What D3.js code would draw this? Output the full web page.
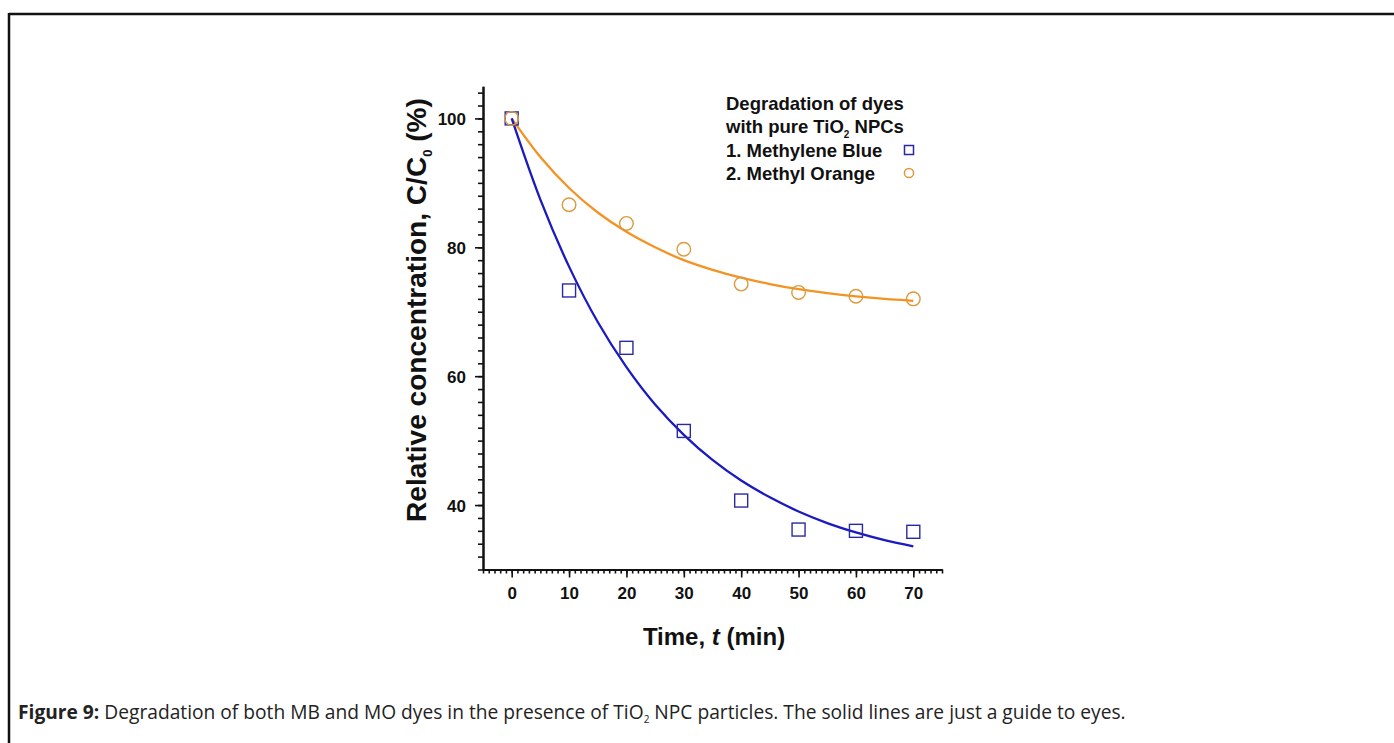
<!DOCTYPE html>
<html><head><meta charset="utf-8">
<script src="https://cdn.jsdelivr.net/npm/d3@7"></script>
<style>
html,body{margin:0;padding:0;background:#fff;}
svg{display:block;}
</style></head>
<body>
<svg id="c" width="1394" height="743"></svg>
<script>
// ---- data ----
const times = [0, 10, 20, 30, 40, 50, 60, 70];
const mbValues = [100, 73.3, 64.4, 51.5, 40.7, 36.2, 36.0, 35.85];
const moValues = [100, 86.6, 83.7, 79.7, 74.3, 73.0, 72.4, 72.0];
// guide-line points
const guideTimes = [0, 5, 10, 15, 20, 25, 30, 35, 40, 45, 50, 55, 60, 65, 70];
const mbGuide = [100, 87.4, 77.0, 68.4, 61.4, 55.6, 50.9, 47.0, 43.8, 41.2, 39.0, 37.2, 35.75, 34.55, 33.6];
const moGuide = [100, 94.0, 89.2, 85.4, 82.4, 80.0, 78.0, 76.5, 75.3, 74.3, 73.5, 72.9, 72.4, 72.0, 71.7];
const xTickLabels = [0, 10, 20, 30, 40, 50, 60, 70];
const yTickLabels = [40, 60, 80, 100];
const legendTitle1 = "Degradation of dyes";
const legendItems = ["1. Methylene Blue", "2. Methyl Orange"];

const svg = d3.select("#c");
const FONT = "Liberation Sans, Arial, sans-serif";

// frame
svg.append("line").attr("x1", 9).attr("x2", 1394).attr("y1", 14).attr("y2", 14)
  .attr("stroke", "#111").attr("stroke-width", 2.5);
svg.append("line").attr("x1", 9).attr("x2", 9).attr("y1", 13).attr("y2", 743)
  .attr("stroke", "#111").attr("stroke-width", 2.5);

const x = d3.scaleLinear().domain([-5, 75]).range([483, 942]);
const y = d3.scaleLinear().domain([30, 105]).range([569.5, 86.2]);

// minor ticks
const xMinor = d3.range(-5, 76, 1);
const yMinor = d3.range(30, 105, 2);

const gxMinor = svg.append("g").attr("transform", `translate(0,${y(30)})`)
  .call(d3.axisBottom(x).tickValues(xMinor).tickSize(4).tickSizeOuter(0).tickFormat(""));
const gx = svg.append("g").attr("transform", `translate(0,${y(30)})`)
  .call(d3.axisBottom(x).tickValues(xTickLabels).tickSize(8).tickSizeOuter(0).tickPadding(6));
const gyMinor = svg.append("g").attr("transform", `translate(${x(-5)},0)`)
  .call(d3.axisLeft(y).tickValues(yMinor).tickSize(5).tickSizeOuter(0).tickFormat(""));
const gy = svg.append("g").attr("transform", `translate(${x(-5)},0)`)
  .call(d3.axisLeft(y).tickValues(yTickLabels).tickSize(8).tickSizeOuter(0).tickPadding(9));

[gxMinor, gx, gyMinor, gy].forEach(g => {
  g.attr("font-size", null).attr("font-family", null);
  g.selectAll("path").attr("stroke", "#111").attr("stroke-width", 2);
  g.selectAll("line").attr("stroke", "#111").attr("stroke-width", 1.6);
  g.selectAll("text").attr("fill", "#111").style("font-family", FONT)
    .style("font-size", "17px").style("font-weight", "bold");
});
gx.selectAll("text").attr("dy", "0.9em");
gy.selectAll("text").attr("dy", "0.36em");

// axis titles
const xt = svg.append("text").attr("x", 714).attr("y", 645).attr("text-anchor", "middle")
  .style("font-family", FONT).style("font-size", "24px").style("font-weight", "bold").attr("fill", "#111");
xt.append("tspan").text("Time, ");
xt.append("tspan").style("font-style", "italic").text("t");
xt.append("tspan").text(" (min)");

const yt = svg.append("text").attr("transform", "translate(426,310) rotate(-90)")
  .attr("text-anchor", "middle")
  .style("font-family", FONT).style("font-size", "24px").style("font-weight", "bold").attr("fill", "#111");
yt.append("tspan").text("Relative concentration, C/C");
yt.append("tspan").attr("dy", 6).style("font-size", "13px").text("0");
yt.append("tspan").attr("dy", -6).text(" (%)");
const yl = yt.node().getComputedTextLength();
yt.style("font-size", (24 * 425 / yl).toFixed(2) + "px");

// guide lines
const line = d3.line().curve(d3.curveCatmullRom.alpha(0.5));
svg.append("path")
  .attr("d", line(guideTimes.map((t, i) => [x(t), y(moGuide[i])])))
  .attr("fill", "none").attr("stroke", "#f29322").attr("stroke-width", 2.3);
svg.append("path")
  .attr("d", line(guideTimes.map((t, i) => [x(t), y(mbGuide[i])])))
  .attr("fill", "none").attr("stroke", "#1a1ac0").attr("stroke-width", 2.3);

// markers
const sq = 13;
svg.append("g").selectAll("rect").data(times).join("rect")
  .attr("x", (t) => x(t) - sq / 2).attr("y", (t, i) => y(mbValues[i]) - sq / 2)
  .attr("width", sq).attr("height", sq)
  .attr("fill", "none").attr("stroke", "#2a2aa0").attr("stroke-width", 1.4);
svg.append("g").selectAll("circle").data(times).join("circle")
  .attr("cx", (t) => x(t)).attr("cy", (t, i) => y(moValues[i])).attr("r", 6.8)
  .attr("fill", "none").attr("stroke", "#dc9a3e").attr("stroke-width", 1.4);

// legend
const lg = svg.append("g").style("font-family", FONT).style("font-size", "18.5px")
  .style("font-weight", "bold").attr("fill", "#111");
lg.append("text").attr("x", 726).attr("y", 109.5).text(legendTitle1);
const l2 = lg.append("text").attr("x", 726).attr("y", 132.5);
l2.append("tspan").text("with pure TiO");
l2.append("tspan").attr("dy", 5).style("font-size", "10px").text("2");
l2.append("tspan").attr("dy", -5).text(" NPCs");
lg.append("text").attr("x", 726).attr("y", 156.5).text(legendItems[0]);
lg.append("text").attr("x", 726).attr("y", 179.5).text(legendItems[1]);
svg.append("rect").attr("x", 909 - 4.5).attr("y", 150 - 4.5).attr("width", 9).attr("height", 9)
  .attr("fill", "none").attr("stroke", "#2a2aa0").attr("stroke-width", 1.5);
svg.append("circle").attr("cx", 909).attr("cy", 173).attr("r", 4.6)
  .attr("fill", "none").attr("stroke", "#dc9a3e").attr("stroke-width", 1.5);

// caption
const cap = svg.append("text").attr("x", 18).attr("y", 719)
  .style("font-family", "Open Sans, Noto Sans, sans-serif").style("font-size", "17px").attr("fill", "#222");
cap.append("tspan").style("font-weight", "bold").text("Figure 9:");
cap.append("tspan").text(" Degradation of both MB and MO dyes in the presence of TiO");
cap.append("tspan").attr("dy", 4).style("font-size", "10px").text("2");
cap.append("tspan").attr("dy", -4).text(" NPC particles. The solid lines are just a guide to eyes.");
// fit caption width to reference span
const w = cap.node().getComputedTextLength();
const target = 1127 - 18;
cap.style("font-size", (17 * target / w).toFixed(2) + "px");
</script>
</body></html>
